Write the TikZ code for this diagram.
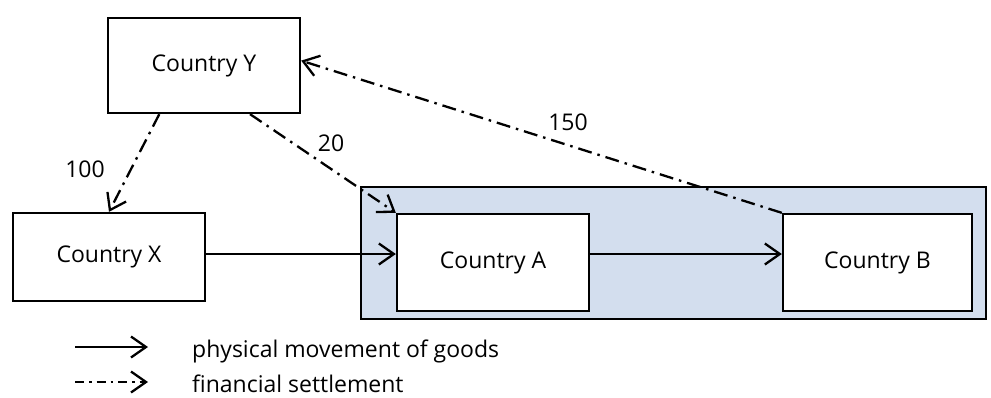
\documentclass[tikz,border=0pt]{standalone}
\usepackage{fontspec}
\setmainfont{Open Sans}
\usetikzlibrary{arrows.meta,calc}
\definecolor{boxblue}{RGB}{211,222,238}
\begin{document}
\begin{tikzpicture}[x=1pt,y=-1pt,
  font=\fontsize{23}{27}\selectfont,
  cbox/.style={draw=black,line width=2.3pt,fill=white,rectangle,inner sep=0pt},
  vtip/.style={-{Straight Barb[length=15pt,width=21pt,line width=2.3pt]}},
  goods/.style={line width=2.3pt,vtip},
  money/.style={line width=2.3pt,vtip,dash pattern=on 14pt off 6pt on 2.5pt off 6pt},
  lbl/.style={inner sep=0pt}]
\useasboundingbox (0,0) rectangle (991,397);
% shaded group
\node[draw=black,line width=2.3pt,fill=boxblue,rectangle,inner sep=0pt,
      minimum width=625pt,minimum height=132pt] (grp) at (673.5,253) {};
% boxes
\node[cbox,minimum width=192pt,minimum height=95pt] (Y) at (204,65.5) {Country Y};
\node[cbox,minimum width=192pt,minimum height=88pt] (X) at (109,257) {Country X};
\node[cbox,minimum width=192pt,minimum height=97pt] (A) at (493,262.5) {Country A};
\node[cbox,minimum width=189pt,minimum height=97pt] (B) at (877.5,262.5) {Country B};
% goods
\draw[goods] (X.east |- 0,254) coordinate (xa) -- (xa -| A.west);
\draw[goods] (A.east |- 0,254) coordinate (ab) -- (ab -| B.west);
% money
\coordinate (y1) at ($(Y.south west)!0.27!(Y.south east)$);
\coordinate (y2) at ($(Y.south west)!0.737!(Y.south east)$);
\coordinate (y3) at ($(Y.north east)!0.45!(Y.south east)$);
\draw[money] (y1) -- (X.north);
\draw[money] (y2) -- (A.north west);
\draw[money] (B.north west) -- (y3);
% amounts
\node[lbl] (l100) at (85,169) {100};
\node[lbl] (l20) at (331,143) {20};
\node[lbl] (l150) at (568,122) {150};
% legend
\coordinate (g1) at (75,347);
\coordinate (g2) at (148,347);
\coordinate (f1) at (75,382);
\coordinate (f2) at (148,382);
\draw[goods] (g1) -- (g2);
\draw[money,dash pattern=on 9pt off 5pt on 2.5pt off 5pt] (f1) -- (f2);
\node[lbl,anchor=base west] (tg) at (192,357) {physical movement of goods};
\node[lbl,anchor=base west] (tf) at (192,392) {financial settlement};
\end{tikzpicture}
\end{document}
